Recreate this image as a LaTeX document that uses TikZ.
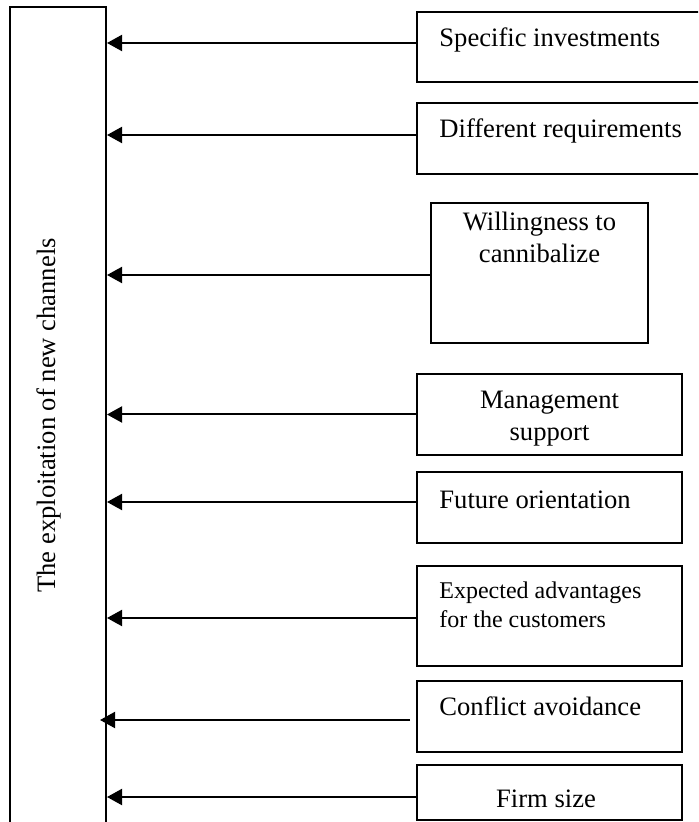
\documentclass[tikz,border=0pt]{standalone}
\usepackage{fontspec}
\setmainfont{Liberation Serif}
\usetikzlibrary{arrows.meta}

\begin{document}
\begin{tikzpicture}[
    x=0.5pt, y=-0.5pt,
    frame/.style={draw, line width=1pt, inner sep=0pt},
    lbl/.style={inner sep=0pt, font=\fontsize{13.3}{16}\selectfont},
    small/.style={inner sep=0pt, font=\fontsize{12}{14.5}\selectfont},
    arr/.style={
        -{Triangle[length=7.5pt, width=8pt]},
        line width=1pt
    }
]
\useasboundingbox (0,0) rectangle (698,822);
\clip (0,0) rectangle (698,822);

% =================== Outcome (left column) ===================
\node[frame, minimum width=48.25pt, minimum height=421.5pt] (main) at (57.75,428.5) {};
\node[lbl, rotate=90, anchor=base] (mainlbl) at (55.5,415.5) {The exploitation of new channels};

% =================== Factor boxes ===================
\node[frame, minimum width=156.5pt, minimum height=35pt] (b1) at (573.5,47) {};
\node[lbl, anchor=base west] (t1) at (439,47) {Specific investments};

\node[frame, minimum width=156.5pt, minimum height=35.5pt] (b2) at (573.5,138.5) {};
\node[lbl, anchor=base west] (t2) at (439,138) {Different requirements};

\node[frame, minimum width=108.5pt, minimum height=70pt] (b3) at (539.5,273) {};
\node[lbl, align=center, anchor=base] (t3) at (539.5,263) {Willingness to\\cannibalize};

\node[frame, minimum width=132.5pt, minimum height=40.5pt] (b4) at (549.5,414.5) {};
\node[lbl, align=center, anchor=base] (t4) at (549.5,440) {Management\\support};

\node[frame, minimum width=132.5pt, minimum height=35.5pt] (b5) at (549.5,507.5) {};
\node[lbl, anchor=base west] (t5) at (439,508) {Future orientation};

\node[frame, minimum width=132.5pt, minimum height=50pt] (b6) at (549.5,616) {};
\node[small, align=left, anchor=base west] (t6) at (439,627) {Expected advantages\\for the customers};

\node[frame, minimum width=132.5pt, minimum height=35.5pt] (b7) at (549.5,716.5) {};
\node[lbl, anchor=base west] (t7) at (439,715) {Conflict avoidance};

\node[frame, minimum width=132.5pt, minimum height=27.5pt] (b8) at (549.5,792.5) {};
\node[lbl, anchor=base] (t8) at (546,807) {Firm size};

% =================== Arrows ===================
\coordinate (s1) at ([yshift=2pt]b1.west);
\coordinate (s2) at ([yshift=1.75pt]b2.west);
\coordinate (s3) at ([yshift=-1pt]b3.west);
\coordinate (s4) at (b4.west);
\coordinate (s5) at ([yshift=2.75pt]b5.west);
\coordinate (s6) at ([yshift=-1pt]b6.west);
\coordinate (s7) at ([xshift=-3pt, yshift=-1.75pt]b7.west);
\coordinate (s8) at ([yshift=-2.25pt]b8.west);

\draw[arr] (s1) -- (s1 -| main.east);
\draw[arr] (s2) -- (s2 -| main.east);
\draw[arr] (s3) -- (s3 -| main.east);
\draw[arr] (s4) -- (s4 -| main.east);
\draw[arr] (s5) -- (s5 -| main.east);
\draw[arr] (s6) -- (s6 -| main.east);
\draw[arr] (s7) -- ([xshift=-3.5pt]s7 -| main.east);
\draw[arr] (s8) -- (s8 -| main.east);

\end{tikzpicture}
\end{document}
